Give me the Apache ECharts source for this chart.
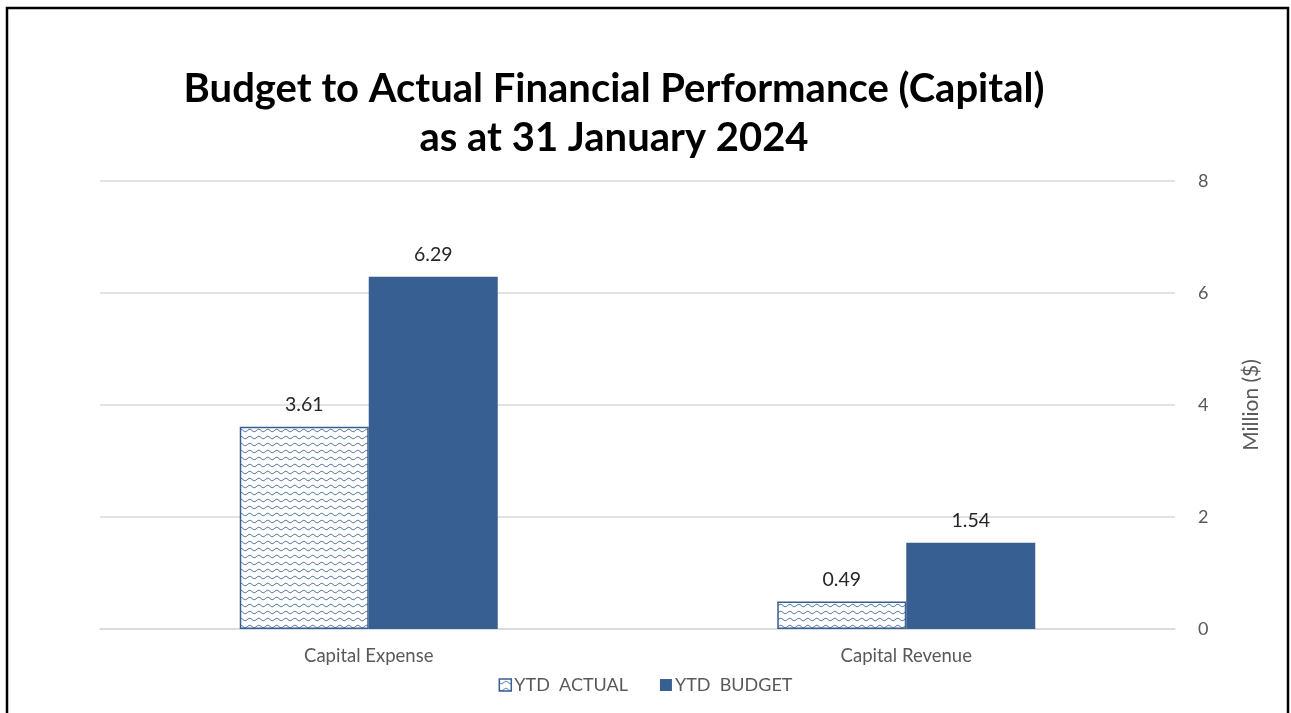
<!DOCTYPE html>
<html>
<head>
<meta charset="utf-8">
<style>
  html, body { margin: 0; padding: 0; background: #fff; }
  #chart { width: 1291px; height: 713px; }
</style>
<script src="https://cdn.jsdelivr.net/npm/echarts@6/dist/echarts.min.js"></script>
</head>
<body>
<div id="chart"></div>
<script>
// Capital budget vs. actual, in millions of dollars
const categories = ['Capital Expense', 'Capital Revenue'];
const ytdActual = [3.61, 0.49];
const ytdBudget = [6.29, 1.54];
const seriesNames = ['YTD  ACTUAL', 'YTD  BUDGET'];
const titleLines = ['Budget to Actual Financial Performance (Capital)', 'as at 31 January 2024'];

const BLUE = '#375f91';
const FONT = 'Lato, "Open Sans", sans-serif';

// Wavy hatch tile used for the actual bars
function waveTile() {
  const c = document.createElement('canvas');
  c.width = 9; c.height = 7;
  const g = c.getContext('2d');
  g.fillStyle = '#fff';
  g.fillRect(0, 0, 9, 7);
  g.strokeStyle = BLUE;
  g.lineWidth = 1;
  g.beginPath();
  for (let x = 0; x <= 9; x += 0.5) {
    const y = 3.5 + 1.2 * Math.sin((x / 9) * Math.PI * 2);
    if (x === 0) g.moveTo(x, y); else g.lineTo(x, y);
  }
  g.stroke();
  return c;
}
const pattern = { image: waveTile(), repeat: 'repeat' };

const valueLabel = {
  show: true, position: 'top', distance: 12,
  fontFamily: FONT, fontSize: 19.5, color: '#262626',
  formatter: p => p.value.toFixed(2)
};

const chart = echarts.init(document.getElementById('chart'), null, { renderer: 'canvas' });
chart.setOption({
  animation: false,
  backgroundColor: '#fff',
  title: {
    text: titleLines.join('\n'),
    left: 609,
    top: 60,
    textAlign: 'center',
    textStyle: { fontFamily: FONT, fontWeight: 'bold', fontSize: 40, color: '#000', lineHeight: 49 }
  },
  grid: { left: 100, right: 116, top: 181, bottom: 84 },
  legend: {
    bottom: 14,
    left: 'center',
    itemWidth: 12,
    itemHeight: 12,
    itemGap: 32,
    icon: 'rect',
    textStyle: { fontFamily: FONT, fontSize: 18, color: '#595959', padding: [0, 0, 0, -2] },
    data: [
      { name: seriesNames[0], itemStyle: { color: pattern, borderColor: BLUE, borderWidth: 1.5 } },
      { name: seriesNames[1], itemStyle: { color: BLUE } }
    ]
  },
  xAxis: {
    type: 'category',
    data: categories,
    axisLine: { lineStyle: { color: '#d9d9d9', width: 1.5 } },
    axisTick: { show: false },
    axisLabel: { fontFamily: FONT, fontSize: 18.5, color: '#595959', margin: 18 }
  },
  yAxis: {
    type: 'value',
    position: 'right',
    min: 0,
    max: 8,
    interval: 2,
    name: 'Million ($)',
    nameLocation: 'middle',
    nameRotate: 90,
    nameGap: 66,
    nameTextStyle: { fontFamily: FONT, fontSize: 21, color: '#595959' },
    axisLine: { show: false },
    axisTick: { show: false },
    axisLabel: { fontFamily: FONT, fontSize: 18, color: '#595959', margin: 23 },
    splitLine: { lineStyle: { color: '#d9d9d9', width: 1.5 } }
  },
  series: [
    {
      name: seriesNames[0],
      type: 'bar',
      data: ytdActual,
      barWidth: 129,
      barGap: '0%',
      itemStyle: { color: pattern, borderColor: BLUE, borderWidth: 1.5 },
      label: valueLabel
    },
    {
      name: seriesNames[1],
      type: 'bar',
      data: ytdBudget,
      barWidth: 129,
      barGap: '0%',
      itemStyle: { color: BLUE },
      label: valueLabel
    }
  ],
  graphic: [
    {
      type: 'rect',
      silent: true,
      shape: { x: 7, y: 8, width: 1281, height: 760 },
      style: { fill: 'none', stroke: '#000', lineWidth: 2.5 }
    }
  ]
});
</script>
</body>
</html>
